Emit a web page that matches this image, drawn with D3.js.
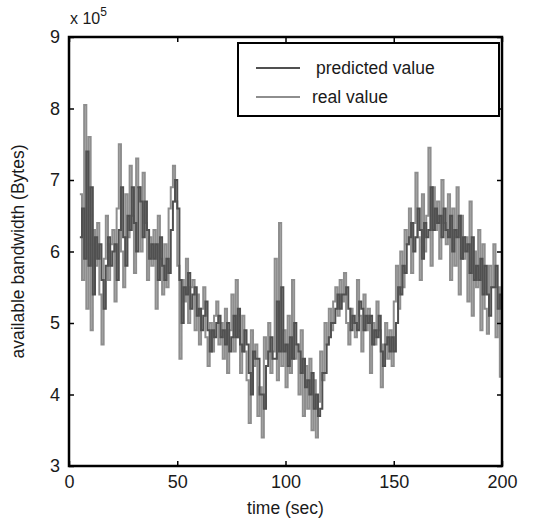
<!DOCTYPE html>
<html><head><meta charset="utf-8">
<script src="https://cdn.jsdelivr.net/npm/d3@7"></script>
<style>body{margin:0;background:#fff}svg{display:block;font-family:"Liberation Sans",Arial,sans-serif}</style>
</head><body><svg id="c" width="535" height="522"></svg>
<script>
const startTime = 5;
const realValue = [
6.8,5.6,8.05,5.2,7.6,4.9,6.3,5.8,6.4,5.4,
4.7,5.9,6.5,5.6,6.1,6.3,5.3,6.6,7.5,6.0,
5.5,6.8,6.2,7.2,6.5,5.7,7.3,6.9,6.0,7.1,
6.4,5.6,6.2,5.8,6.3,5.2,6.5,5.9,5.4,6.1,
5.5,6.6,6.9,7.2,6.7,5.8,4.5,5.6,5.3,5.9,
5.0,5.5,5.6,4.9,5.4,4.7,5.2,5.5,4.8,4.4,
5.0,4.6,5.1,5.3,4.7,5.0,4.5,5.2,4.3,4.9,
5.4,4.6,5.6,4.8,4.3,5.1,4.6,4.2,3.6,4.9,
4.4,4.7,3.7,4.1,3.4,4.8,4.5,5.0,4.3,4.6,
5.9,4.2,6.4,4.4,4.9,4.1,5.1,4.3,5.6,4.5,
4.7,4.0,4.9,3.7,4.4,3.8,4.5,3.5,4.2,3.4,
3.9,4.6,4.2,5.0,4.7,5.2,4.9,5.3,5.5,5.1,
5.6,5.3,5.7,5.0,4.7,5.2,5.0,4.8,5.6,5.1,
4.6,5.4,4.9,5.2,4.3,5.0,4.7,5.3,4.9,4.1,
4.7,5.0,4.5,4.9,4.4,5.3,5.8,5.2,6.0,5.5,
6.3,6.1,6.6,5.7,6.4,7.1,6.2,5.6,6.8,6.0,
6.5,7.45,5.8,6.9,6.3,6.7,5.9,7.0,6.4,6.1,
6.8,5.6,6.6,5.8,6.9,5.4,6.5,5.9,6.2,5.3,
6.7,5.1,6.0,5.5,6.3,4.9,6.1,5.2,4.85,5.8,
5.5,6.1,4.8,5.5,4.25,6.0];
const predictedValue = [
6.2,6.6,5.9,7.4,5.8,6.9,5.4,6.2,5.9,6.1,
5.6,5.2,5.8,6.2,5.8,6.0,6.1,5.6,6.3,6.9,
6.2,5.8,6.5,6.3,6.9,6.4,6.0,6.9,6.7,6.2,
6.7,6.3,5.9,6.1,5.9,6.1,5.6,6.2,5.8,5.6,
5.9,5.7,6.3,6.7,7.0,6.6,5.6,5.0,5.5,5.4,
5.7,5.2,5.4,5.5,5.1,5.2,4.9,5.1,5.3,4.9,
4.6,4.9,4.8,5.0,5.1,4.8,4.9,4.7,5.0,4.6,
4.8,5.1,4.8,5.2,4.7,4.6,4.9,4.7,4.3,4.0,
4.6,4.5,4.5,4.0,4.0,3.8,4.4,4.6,4.8,4.5,
4.5,5.3,4.6,5.5,4.6,4.7,4.4,4.8,4.5,5.0,
4.7,4.6,4.3,4.5,4.1,4.2,4.0,4.3,3.8,4.0,
3.7,3.8,4.3,4.3,4.7,4.8,5.0,5.0,5.2,5.4,
5.2,5.4,5.4,5.5,5.2,4.9,5.1,5.0,4.9,5.3,
5.2,4.9,5.1,5.0,5.1,4.7,4.9,4.8,5.1,4.6,
4.4,4.7,4.8,4.6,4.8,4.6,5.0,5.5,5.4,5.8,
5.7,6.1,6.2,6.4,6.0,6.2,6.6,6.3,5.9,6.4,
6.2,6.3,6.9,6.3,6.6,6.4,6.5,6.2,6.6,6.3,
6.2,6.5,6.0,6.3,6.2,6.5,5.9,6.2,6.0,6.1,
5.7,6.2,5.6,5.8,5.6,5.9,5.4,5.8,5.4,5.1,
5.5,5.5,5.8,5.2,5.4,4.8];
const xTicks = [0,50,100,150,200];
const yTicks = [3,4,5,6,7,8,9];
const seriesNames = ["predicted value","real value"];
const seriesColors = ["#505050","#8e8e8e"];

const svg = d3.select("#c");
const L=69,R=502,T=37,B=466;
const x = d3.scaleLinear().domain([0,200]).range([L,R]);
const y = d3.scaleLinear().domain([3,9]).range([B,T]);

const line = d3.line().curve(d3.curveStepAfter).x(d=>x(d[0])).y(d=>y(d[1]));
const realPts = realValue.map((v,i)=>[startTime+i,v]);
const predPts = predictedValue.map((v,i)=>[startTime+i,v]);
svg.append("path").attr("d",line(realPts)).attr("fill","none").attr("stroke",seriesColors[1]).attr("stroke-width",2);
svg.append("path").attr("d",line(predPts)).attr("fill","none").attr("stroke",seriesColors[0]).attr("stroke-width",2);

const fs=18, tc="#1a1a1a";
const fmt = d3.format("d");
const gB = svg.append("g").attr("transform",`translate(0,${B})`).call(d3.axisBottom(x).tickValues(xTicks).tickFormat(fmt).tickSizeInner(-5).tickSizeOuter(0).tickPadding(9));
const gT = svg.append("g").attr("transform",`translate(0,${T})`).call(d3.axisTop(x).tickValues(xTicks).tickSizeInner(-5).tickSizeOuter(0).tickFormat(""));
const gL = svg.append("g").attr("transform",`translate(${L},0)`).call(d3.axisLeft(y).tickValues(yTicks).tickFormat(fmt).tickSizeInner(-5).tickSizeOuter(0).tickPadding(9));
const gR = svg.append("g").attr("transform",`translate(${R},0)`).call(d3.axisRight(y).tickValues(yTicks).tickSizeInner(-5).tickSizeOuter(0).tickFormat(""));
[gB,gT,gL,gR].forEach(g=>{g.select(".domain").remove();g.selectAll("line").attr("stroke","#000").attr("stroke-width",1.5);g.selectAll("text").attr("font-size",fs).attr("fill",tc).attr("font-family","Liberation Sans, Arial, sans-serif");});
svg.append("rect").attr("x",L).attr("y",T).attr("width",R-L).attr("height",B-T).attr("fill","none").attr("stroke","#000").attr("stroke-width",2.5);

const ex = svg.append("text").attr("x",70).attr("y",24).attr("font-size",16).attr("fill",tc);
ex.append("tspan").text("x 10");
ex.append("tspan").attr("dy",-8).attr("font-size",12).text("5");

svg.append("text").attr("x",(L+R)/2).attr("y",514).attr("text-anchor","middle").attr("font-size",17.5).attr("fill",tc).text("time (sec)");
svg.append("text").attr("transform",`translate(24,${(T+B)/2}) rotate(-90)`).attr("text-anchor","middle").attr("font-size",17.5).attr("fill",tc).text("available bandwidth (Bytes)");

const lg = svg.append("g");
lg.append("rect").attr("x",238).attr("y",43).attr("width",261).attr("height",73).attr("fill","#fff").attr("stroke","#000").attr("stroke-width",2);
seriesNames.forEach((n,i)=>{
  const yy = 68 + i*29;
  lg.append("line").attr("x1",256).attr("x2",300).attr("y1",yy).attr("y2",yy).attr("stroke",seriesColors[i]).attr("stroke-width",2);
  lg.append("text").attr("x",i===0?316:312).attr("y",yy+6).attr("font-size",17.5).attr("fill",tc).text(n);
});
</script></body></html>
